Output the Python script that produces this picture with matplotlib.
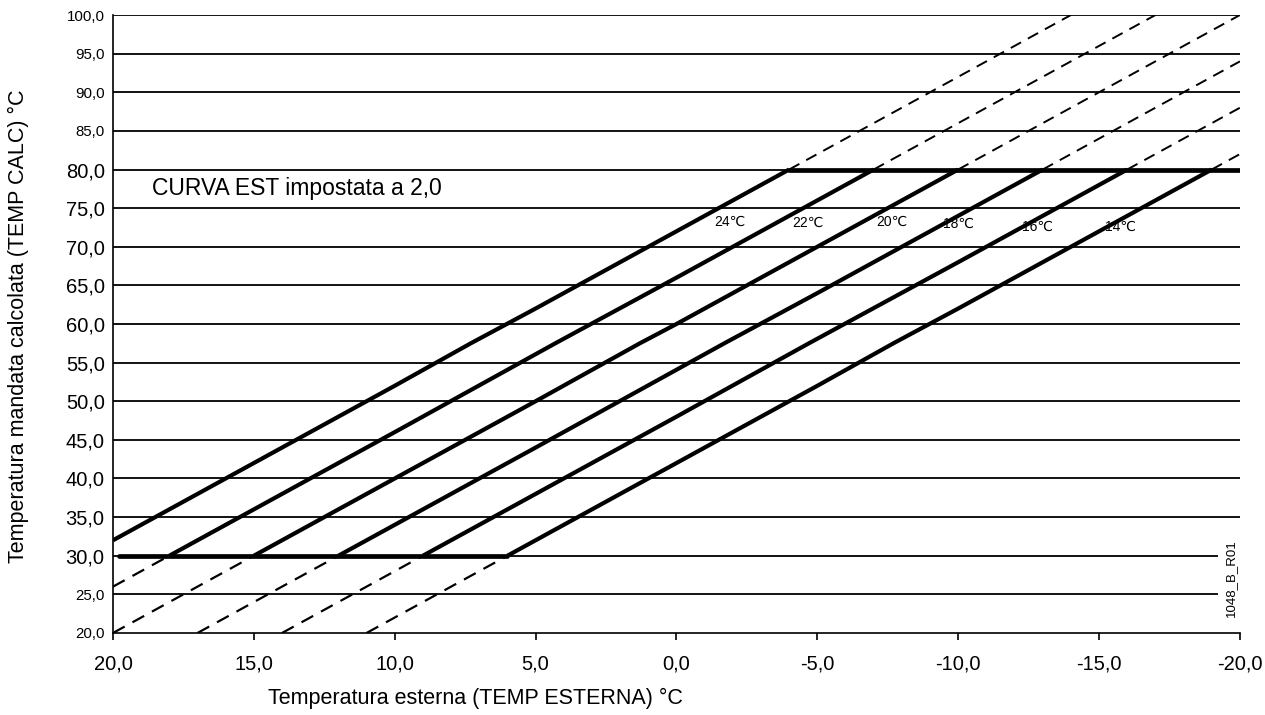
import matplotlib.pyplot as plt
from matplotlib.ticker import FuncFormatter

plt.rcParams['font.family'] = ['Liberation Sans', 'DejaVu Sans']

# curve labels (room temperature setpoint)
labels = ['24℃', '22℃', '20℃', '18℃', '16℃', '14℃']

# solid part of each curve: outdoor temp -> calculated flow temp
curve_x = [
    [20, 15, 10, 7.3, 5, 0, -4],
    [18, 15, 10, 4.3, 0, -5, -7],
    [15, 10, 5, 1.3, 0, -5, -10],
    [12, 10, 5, -1.7, -5, -10, -13],
    [9, 5, 0, -4.7, -10, -16],
    [6, 5, 0, -5, -7.7, -10, -19],
]
curve_y = [
    [32, 42, 52, 57.5, 62, 72, 80],
    [30, 36, 46, 57.5, 66, 76, 80],
    [30, 40, 50, 57.5, 60, 70, 80],
    [30, 34, 44, 57.5, 64, 74, 80],
    [30, 38, 48, 57.5, 68, 80],
    [30, 32, 42, 52, 57.5, 62, 80],
]

# dashed extensions above 80 °C
up_x = [[-4, -14], [-7, -17], [-10, -20], [-13, -20], [-16, -20], [-19, -20]]
up_y = [[80, 100], [80, 100], [80, 100], [80, 94], [80, 88], [80, 82]]

# dashed extensions below 30 °C
low_x = [[20, 18], [20, 15], [17, 12], [14, 9], [11, 6]]
low_y = [[26, 30], [20, 30], [20, 30], [20, 30], [20, 30]]

# min / max limits
min_x, min_y = [19.8, 6], [30, 30]
max_x, max_y = [-4, -20], [80, 80]

# label positions
lab_x = [-1.9, -4.65, -7.65, -10.0, -12.8, -15.75]
lab_y = [73.2, 73.1, 73.2, 72.9, 72.6, 72.6]

fig = plt.figure(figsize=(12.65, 7.15), dpi=100)
ax = fig.add_axes([0.0893, 0.1147, 0.8909, 0.8643])

for yv in range(25, 101, 5):
    ax.axhline(yv, color='black', lw=1.3, zorder=1)

for xs, ys in zip(low_x, low_y):
    ax.plot(xs, ys, color='black', lw=1.6, dashes=(6, 4), zorder=2)
for xs, ys in zip(up_x, up_y):
    ax.plot(xs, ys, color='black', lw=1.4, dashes=(6, 4), zorder=2)

for xs, ys in zip(curve_x, curve_y):
    ax.plot(xs, ys, color='black', lw=3.0, solid_capstyle='butt',
            solid_joinstyle='round', zorder=3)

ax.plot(min_x, min_y, color='black', lw=3.4, solid_capstyle='round', zorder=3)
ax.plot(max_x, max_y, color='black', lw=3.4, solid_capstyle='round', zorder=3)

for t, x, y in zip(labels, lab_x, lab_y):
    ax.text(x, y, t, fontsize=10, ha='center', va='center', zorder=4)

ax.text(18.6, 77.5, 'CURVA EST impostata a 2,0', fontsize=16.5,
        ha='left', va='center', zorder=4)

ax.text(-19.68, 27.1, '1048_B_R01', fontsize=9.5, rotation=90,
        ha='center', va='center', zorder=5,
        bbox=dict(facecolor='white', edgecolor='none', pad=5))

ax.set_xlim(20, -20)
ax.set_ylim(20, 100)
ax.set_xticks(range(20, -21, -5))
ax.set_yticks(range(20, 101, 5))

fmt = FuncFormatter(lambda v, p: f'{abs(v) if v == 0 else v:.1f}'.replace('.', ','))
ax.xaxis.set_major_formatter(fmt)
ax.yaxis.set_major_formatter(fmt)

ax.spines['top'].set_visible(False)
ax.spines['right'].set_visible(False)
ax.spines['left'].set_linewidth(1.2)
ax.spines['bottom'].set_linewidth(1.2)
ax.tick_params(axis='x', direction='out', length=5, width=1.2, labelsize=14.5, pad=10.5)
ax.tick_params(axis='y', length=0, pad=6)

for lbl, v in zip(ax.get_yticklabels(), range(20, 101, 5)):
    lbl.set_fontsize(14.5 if 30 <= v <= 80 else 10.8)

fig.text(475 / 1265, 1 - 698 / 715, 'Temperatura esterna (TEMP ESTERNA) °C',
         fontsize=15.5, ha='center', va='center')
fig.text(18 / 1265, 1 - 326 / 715, 'Temperatura mandata calcolata (TEMP CALC) °C',
         fontsize=15.5, ha='center', va='center', rotation=90)

fig.savefig('out.png', dpi=100)
